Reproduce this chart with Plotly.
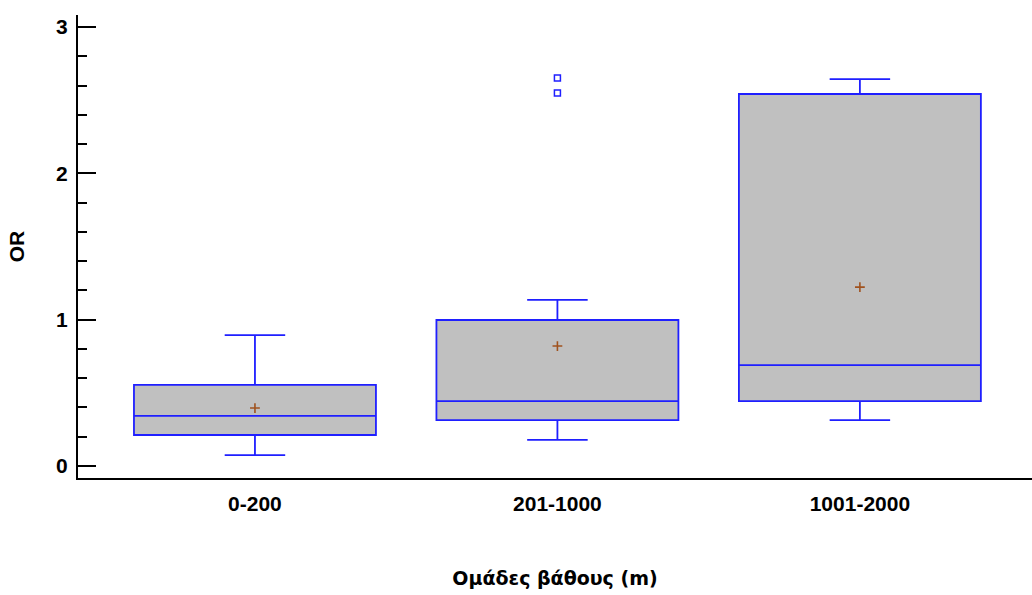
import plotly.graph_objects as go

categories = ["0-200", "201-1000", "1001-2000"]
lower_whisker = [0.075, 0.178, 0.314]
q1_vals = [0.212, 0.314, 0.444]
median_vals = [0.342, 0.444, 0.69]
q3_vals = [0.554, 0.998, 2.543]
upper_whisker = [0.895, 1.135, 2.645]
mean_vals = [0.396, 0.82, 1.223]
outlier_cats = ["201-1000", "201-1000"]
outlier_vals = [2.652, 2.55]

BLUE = "#1f1fff"
font_family = "Liberation Sans, Arial, sans-serif"

fig = go.Figure()
fig.add_trace(go.Box(
    x=categories, q1=q1_vals, median=median_vals, q3=q3_vals,
    lowerfence=lower_whisker, upperfence=upper_whisker,
    width=0.8,
    fillcolor="#c0c0c0", line=dict(color=BLUE, width=1.8),
    whiskerwidth=0.25, showlegend=False, boxpoints=False,
    hoverinfo="skip",
))
fig.add_trace(go.Scatter(
    x=categories, y=mean_vals, mode="markers",
    marker=dict(symbol="cross-thin", size=7, line=dict(color="#a0521e", width=1.6)),
    showlegend=False,
))
fig.add_trace(go.Scatter(
    x=outlier_cats, y=outlier_vals, mode="markers",
    marker=dict(symbol="square-open", size=6, color=BLUE, line=dict(color=BLUE, width=1.5)),
    showlegend=False,
))

fig.update_layout(
    width=1032, height=595,
    margin=dict(l=78, r=0, t=15, b=117),
    paper_bgcolor="white", plot_bgcolor="white",
    font=dict(family=font_family, size=22, color="black"),
    xaxis=dict(
        type="category", range=[-0.585, 2.569],
        showline=True, linecolor="black", linewidth=2,
        ticks="", showgrid=False, zeroline=False,
        tickfont=dict(family=font_family, size=21, color="black", weight="bold"),
        ticklabelstandoff=6,
        title=dict(text="Ομάδες βάθους (m)", standoff=57,
                   font=dict(family="DejaVu Sans, sans-serif", size=19, color="black", weight="bold")),
    ),
    yaxis=dict(
        range=[-0.082, 3.083],
        showline=True, linecolor="black", linewidth=2,
        ticks="inside", ticklen=18, tickwidth=1.5, tickcolor="black",
        tickvals=[0, 1, 2, 3], showgrid=False, zeroline=False,
        minor=dict(dtick=0.2, ticks="inside", ticklen=9, tickwidth=1.5, tickcolor="black", showgrid=False),
        tickfont=dict(family=font_family, size=21, color="black", weight="bold"),
        ticklabelstandoff=4,
        title=dict(text="OR", standoff=26,
                   font=dict(family=font_family, size=21, color="black", weight="bold")),
    ),
)

fig.write_html("out.html")
